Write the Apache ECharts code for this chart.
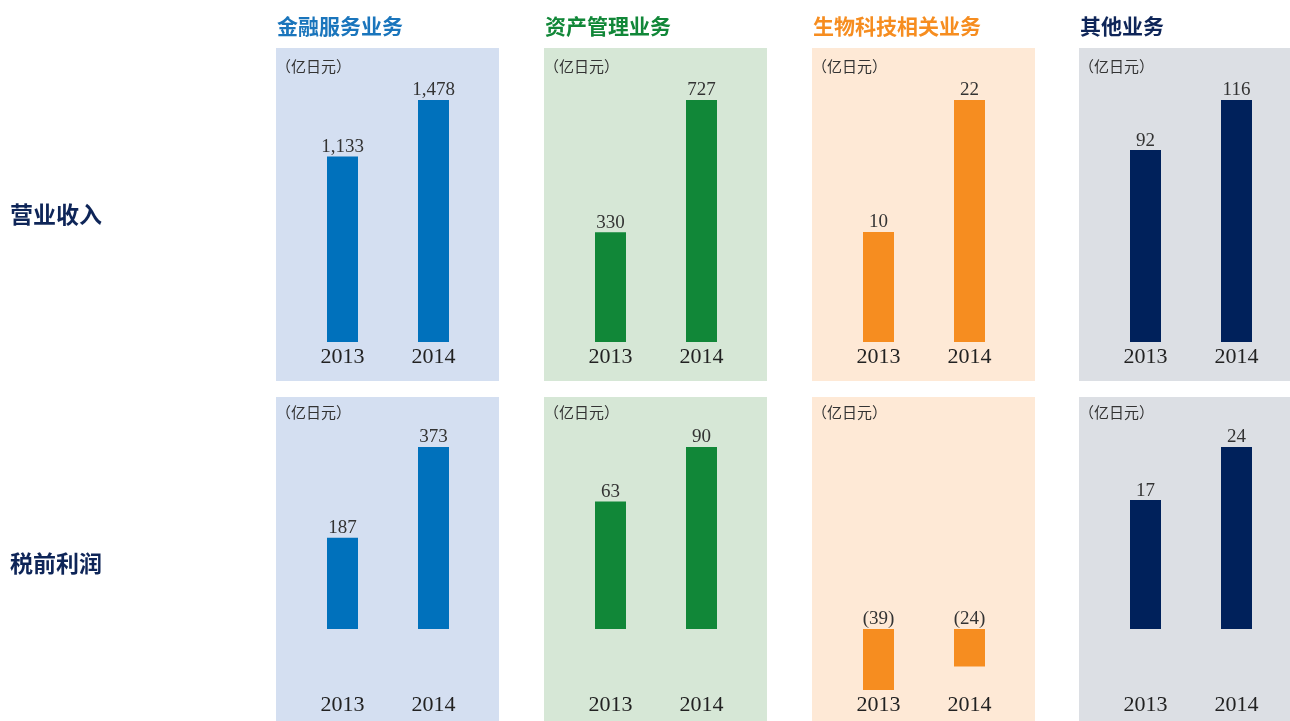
<!DOCTYPE html>
<html>
<head>
<meta charset="utf-8">
<title>业务别业绩</title>
<script src="https://cdn.jsdelivr.net/npm/echarts@6/dist/echarts.min.js"></script>
<style>
  html, body { margin: 0; padding: 0; background: #fff; }
  #chart { width: 1290px; height: 721px; }
</style>
</head>
<body>
<div id="chart"></div>
<script>
  // 数据
  const years = ['2013', '2014']
  const segments = ['金融服务业务', '资产管理业务', '生物科技相关业务', '其他业务']
  const rowNames = ['营业收入', '税前利润']
  const unitText = '（亿日元）'
  const revenue2013 = [1133, 330, 10, 92]
  const revenue2014 = [1478, 727, 22, 116]
  const profit2013 = [187, 63, -39, 17]
  const profit2014 = [373, 90, -24, 24]

  // 颜色
  const barColors = ['#0071bc', '#118738', '#f68d20', '#00215b']
  const panelColors = ['#d4dff1', '#d6e7d6', '#fee9d6', '#dcdfe4']
  const titleColors = ['#1a75bc', '#118738', '#f68d20', '#0e2558']

  const panelLeft = [276, 544, 812, 1079]
  const numFont = '"Liberation Serif", "DejaVu Serif", serif'
  const cjkFont = '"Noto Sans CJK SC", sans-serif'

  const chart = echarts.init(document.getElementById('chart'))

  const grid = [], xAxis = [], yAxis = [], series = [], graphic = []

  // 负数用括号表示
  const fmt = v => v < 0 ? '(' + (-v) + ')' : v.toLocaleString('en-US')

  rowNames.forEach((row, r) => {
    const v13 = r === 0 ? revenue2013 : profit2013
    const v14 = r === 0 ? revenue2014 : profit2014
    graphic.push({
      type: 'text', x: 10, y: r === 0 ? 214 : 563,
      style: { text: row, font: 'bold 23px ' + cjkFont, fill: '#0e2558', verticalAlign: 'middle' }
    })
    segments.forEach((seg, i) => {
      const idx = r * 4 + i
      const vals = [v13[i], v14[i]]
      const neg = vals[0] < 0
      // 背景
      graphic.push({
        type: 'rect', z: -10,
        shape: { x: panelLeft[i], y: r === 0 ? 48 : 397, width: 223, height: r === 0 ? 333 : 330 },
        style: { fill: panelColors[i] }
      })
      graphic.push({
        type: 'text', x: panelLeft[i], y: r === 0 ? 66 : 412,
        style: { text: unitText, font: '15px ' + cjkFont, fill: '#333', verticalAlign: 'middle' }
      })
      let top, height, margin
      if (r === 0) { top = 100; height = 242; margin = 4 }
      else if (!neg) { top = 447; height = 182; margin = 65 }
      else { top = 629; height = 61; margin = 4 }
      grid.push({ left: panelLeft[i] + 21, width: 182, top: top, height: height })
      xAxis.push({
        gridIndex: idx, type: 'category', data: years,
        axisLine: { show: false, onZero: false }, axisTick: { show: false },
        axisLabel: { margin: margin, fontSize: 22, fontFamily: numFont, color: '#222' }
      })
      yAxis.push({
        gridIndex: idx, type: 'value',
        min: neg ? Math.min(...vals) : 0,
        max: neg ? 0 : Math.max(...vals),
        show: false, splitLine: { show: false }
      })
      series.push({
        type: 'bar', xAxisIndex: idx, yAxisIndex: idx, data: vals,
        barWidth: 31, itemStyle: { color: barColors[i] },
        label: {
          show: true, position: 'top', distance: 0,
          fontSize: 19, fontFamily: numFont, color: '#333',
          formatter: p => fmt(p.value)
        }
      })
    })
  })

  segments.forEach((seg, i) => {
    graphic.push({
      type: 'text', x: panelLeft[i] + 1, y: 26,
      style: { text: seg, font: 'bold 21px ' + cjkFont, fill: titleColors[i], verticalAlign: 'middle' }
    })
  })

  chart.setOption({
    animation: false,
    grid: grid,
    xAxis: xAxis,
    yAxis: yAxis,
    series: series,
    graphic: graphic
  })
</script>
</body>
</html>
